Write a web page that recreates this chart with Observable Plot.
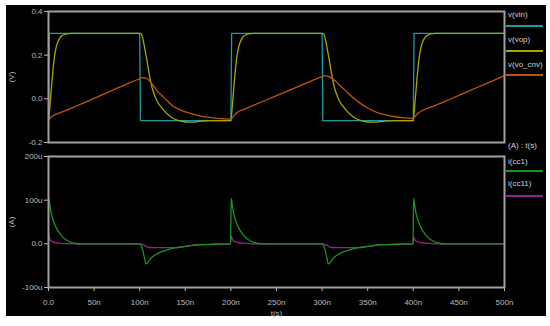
<!DOCTYPE html>
<html><head><meta charset="utf-8">
<script src="https://cdn.jsdelivr.net/npm/d3@7"></script>
<script src="https://cdn.jsdelivr.net/npm/@observablehq/plot@0.6"></script>
<style>
body{margin:0;background:#fff;}
#wrap{position:relative;width:550px;height:326px;background:#fff;overflow:hidden;font-family:"Liberation Sans",Arial,sans-serif;}
#black{position:absolute;left:6px;top:5px;width:540px;height:311px;background:#000;}
.panel{position:absolute;left:0;}
.leg{position:absolute;left:508px;color:#d0d0d0;font-size:8px;line-height:8px;white-space:nowrap;}
.legline{position:absolute;left:506px;width:37px;height:2px;}
</style></head><body>
<div id="wrap"><div id="black"></div><div id="top" class="panel" style="top:0"></div><div id="bot" class="panel" style="top:150px"></div><div id="legend"></div></div>
<script>
// ---- data (time in ns) ----
const vinT = [0, 0.8, 100, 100.8, 200, 200.8, 300, 300.8, 400, 400.8, 500];
const vinV = [-0.1, 0.3, 0.3, -0.1, -0.1, 0.3, 0.3, -0.1, -0.1, 0.3, 0.3];

const vopT = [0,1,2,3,4,5,6,7,8,10,12,15,19,25,
  100,102,104,106,108,110,112,114,116,119,123,127,131,136,142,150,158,167,180,
  200,201,202,203,204,205,206,207,208,210,212,215,219,225,
  300,302,304,306,308,310,312,314,316,319,323,327,331,336,342,350,358,367,380,
  400,401,402,403,404,405,406,407,408,410,412,415,419,425,500];
const vopV = [-0.1,-0.06,-0.01,0.04,0.09,0.135,0.175,0.205,0.228,0.258,0.276,0.29,0.297,0.3,
  0.3,0.295,0.265,0.22,0.175,0.125,0.08,0.045,0.02,-0.01,-0.035,-0.055,-0.072,-0.088,-0.099,-0.106,-0.107,-0.102,-0.1,
  -0.1,-0.06,-0.01,0.04,0.09,0.135,0.175,0.205,0.228,0.258,0.276,0.29,0.297,0.3,
  0.3,0.295,0.265,0.22,0.175,0.125,0.08,0.045,0.02,-0.01,-0.035,-0.055,-0.072,-0.088,-0.099,-0.106,-0.107,-0.102,-0.1,
  -0.1,-0.06,-0.01,0.04,0.09,0.135,0.175,0.205,0.228,0.258,0.276,0.29,0.297,0.3,0.3];

const cnvT = [0,1,3,6,10,20,30,40,50,60,70,80,90,100,103,106,110,115,120,125,130,137,145,155,167,180,190,
  200,203,207,212,220,240,260,280,300,303,306,310,315,320,325,330,340,350,360,370,380,390,
  400,403,407,412,420,440,460,480,500];
const cnvV = [-0.1,-0.093,-0.083,-0.075,-0.068,-0.052,-0.034,-0.016,0.002,0.02,0.039,0.057,0.075,0.092,0.097,0.096,0.086,0.06,0.032,0.012,-0.008,-0.035,-0.052,-0.066,-0.079,-0.087,-0.091,
  -0.094,-0.078,-0.062,-0.052,-0.038,-0.003,0.032,0.067,0.102,0.106,0.104,0.095,0.08,0.06,0.04,0.02,-0.015,-0.042,-0.062,-0.074,-0.082,-0.087,
  -0.09,-0.075,-0.06,-0.05,-0.037,-0.002,0.034,0.07,0.106];

// currents in uA
const cc1T = [0,0.4,1.5,3,4.5,6,8,10,12,15,18,21,24,27,30,35,
  100,101,103,105,107,108.5,110,112,115,119,124,130,136,142,150,158,167,180,
  199.6,200.4,201.5,203,204.5,206,208,210,212,215,218,221,224,227,230,235,
  300,301,303,305,307,308.5,310,312,315,319,324,330,336,342,350,358,367,380,
  399.6,400.4,401.5,403,404.5,406,408,410,412,415,418,421,424,427,430,435,500];
const cc1V = [100,104,88,70,58,49,39,31,25,17,11,7,4,2,0.8,0,
  0,-1,-12,-30,-46,-44,-39,-34,-28,-23,-18,-14,-10.5,-8.4,-6,-3.5,-2,-1,
  0,104,88,70,58,49,39,31,25,17,11,7,4,2,0.8,0,
  0,-1,-12,-30,-46,-44,-39,-34,-28,-23,-18,-14,-10.5,-8.4,-6,-3.5,-2,-1,
  0,104,88,70,58,49,39,31,25,17,11,7,4,2,0.8,0,0];

const cc11T = [0,1,2,4,6,10,15,20,25,
  100,102,105,108,110,120,130,137,142,150,158,167,180,
  199.6,200.4,201.5,203,205,208,212,218,225,
  300,302,305,308,310,320,330,337,342,350,358,367,380,
  399.6,400.4,401.5,403,405,408,412,418,425,500];
const cc11V = [25,14,9,5,3.5,2,1,0.3,0,
  0,-0.5,-3,-7,-8.4,-8.6,-8.6,-8.5,-8.4,-6,-3.5,-2,-1,
  -0.5,18,11,7,4.5,3,2,1,0,
  0,-0.5,-3,-7,-8.4,-8.6,-8.6,-8.5,-8.4,-6,-3.5,-2,-1,
  -0.5,16,10,6.5,4.3,3,2,1,0,0];

// ticks and labels
const voltTicks = [-0.2, 0, 0.2, 0.4];
const voltTickLabels = ["-0.2", "0.0", "0.2", "0.4"];
const currTicks = [-100, 0, 100, 200];
const currTickLabels = ["-100u", "0.0", "100u", "200u"];
const timeTicks = [0, 50, 100, 150, 200, 250, 300, 350, 400, 450, 500];
const timeTickLabels = ["0.0","50n","100n","150n","200n","250n","300n","350n","400n","450n","500n"];

const topNames = ["v(vin)", "v(vop)", "v(vo_cnv)"];
const topColors = ["#1a9aa2", "#a8a600", "#bb560e"];
const botNames = ["i(cc1)", "i(cc11)"];
const botColors = ["#17981a", "#9a1e98"];

// ---- build ----
const rows = (T, V) => T.map((t, i) => ({t, v: V[i]}));
const vin = rows(vinT, vinV), vop = rows(vopT, vopV), cnv = rows(cnvT, cnvV);
const cc1 = rows(cc1T, cc1V), cc11 = rows(cc11T, cc11V);
const font = '"Liberation Sans", Arial, sans-serif';
const st = {background: "transparent", color: "#bcbcbc", fontFamily: font, fontSize: "8px", overflow: "visible"};

const topPlot = Plot.plot({
  width: 550, height: 150, marginLeft: 48, marginRight: 46, marginTop: 11, marginBottom: 8,
  style: st,
  x: {domain: [0, 500], axis: null},
  y: {domain: [-0.2, 0.4], ticks: voltTicks, tickFormat: d => voltTickLabels[voltTicks.indexOf(d)],
      tickSize: 4, tickPadding: 2, label: "(V)", labelAnchor: "center", labelOffset: 40, labelArrow: "none"},
  marks: [
    Plot.line(vin, {x: "t", y: "v", stroke: topColors[0], strokeWidth: 1.3}),
    Plot.line(vop, {x: "t", y: "v", stroke: topColors[1], strokeWidth: 1.3, curve: "monotone-x"}),
    Plot.line(cnv, {x: "t", y: "v", stroke: topColors[2], strokeWidth: 1.3, curve: "monotone-x"}),
    Plot.frame({stroke: "#a0a0a0", strokeWidth: 2})
  ]
});
document.getElementById("top").appendChild(topPlot);

const botPlot = Plot.plot({
  width: 550, height: 176, marginLeft: 48, marginRight: 46, marginTop: 6, marginBottom: 39,
  style: st,
  x: {domain: [0, 500], ticks: timeTicks, tickFormat: d => timeTickLabels[timeTicks.indexOf(d)],
      tickSize: 4, tickPadding: 8, label: "t(s)", labelAnchor: "center", labelOffset: 28, labelArrow: "none"},
  y: {domain: [-100, 200], ticks: currTicks, tickFormat: d => currTickLabels[currTicks.indexOf(d)],
      tickSize: 4, tickPadding: 2, label: "(A)", labelAnchor: "center", labelOffset: 40, labelArrow: "none"},
  marks: [
    Plot.line(cc11, {x: "t", y: "v", stroke: botColors[1], strokeWidth: 1.3, curve: "monotone-x"}),
    Plot.line(cc1, {x: "t", y: "v", stroke: botColors[0], strokeWidth: 1.3, curve: "monotone-x"}),
    Plot.frame({stroke: "#a0a0a0", strokeWidth: 2})
  ]
});
document.getElementById("bot").appendChild(botPlot);

// legend
const leg = document.getElementById("legend");
function addText(txt, top) { const d = document.createElement("div"); d.className = "leg"; d.style.top = top + "px"; d.textContent = txt; leg.appendChild(d); }
function addLine(color, top) { const d = document.createElement("div"); d.className = "legline"; d.style.top = top + "px"; d.style.background = color; leg.appendChild(d); }
const topTextY = [11, 36, 61], topLineY = [25, 50, 74];
topNames.forEach((n, i) => { addText(n, topTextY[i]); addLine(topColors[i], topLineY[i]); });
addText("(A) : t(s)", 142);
const botTextY = [158, 180], botLineY = [170, 195];
botNames.forEach((n, i) => { addText(n, botTextY[i]); addLine(botColors[i], botLineY[i]); });
</script>
</body></html>
